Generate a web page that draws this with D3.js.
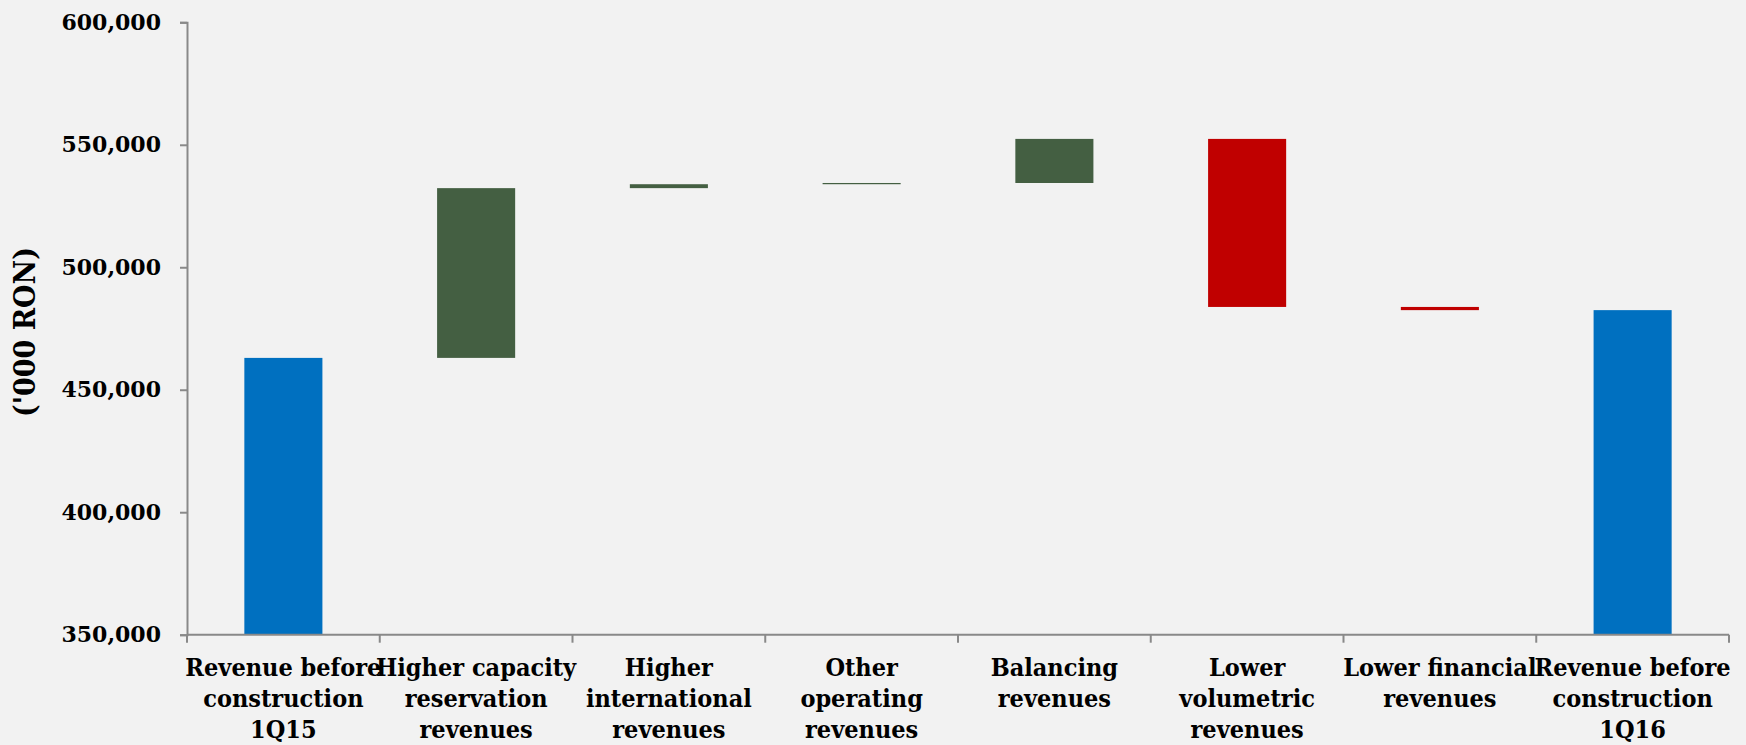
<!DOCTYPE html>
<html>
<head>
<meta charset="utf-8">
<script src="https://cdn.jsdelivr.net/npm/d3@7"></script>
<style>
  html, body { margin: 0; padding: 0; background: #f2f2f2; }
  svg { display: block; }
</style>
</head>
<body>
<div id="chart"></div>
<script>
const categories = [
  'Revenue before construction 1Q15',
  'Higher capacity reservation revenues',
  'Higher international revenues',
  'Other operating revenues',
  'Balancing revenues',
  'Lower volumetric revenues',
  'Lower financial revenues',
  'Revenue before construction 1Q16'
]
const labelLines = [
  ['Revenue before', 'construction', '1Q15'],
  ['Higher capacity', 'reservation', 'revenues'],
  ['Higher', 'international', 'revenues'],
  ['Other', 'operating', 'revenues'],
  ['Balancing', 'revenues'],
  ['Lower', 'volumetric', 'revenues'],
  ['Lower financial', 'revenues'],
  ['Revenue before', 'construction', '1Q16']
]
// 'total' bars start from the axis, the others are changes
const kinds = ['total', 'delta', 'delta', 'delta', 'delta', 'delta', 'delta', 'total']
const values = [463000, 69300, 1600, 500, 18000, -68600, -1300, 482500]
const yTicks = [350000, 400000, 450000, 500000, 550000, 600000]

const width = 1746, height = 745
const mLeft = 187, mRight = 1729, mTop = 22.3, mBottom = 634.7

const svg = d3.select('#chart').append('svg')
    .attr('width', width)
    .attr('height', height)
    .style('background', '#f2f2f2')

const x = d3.scaleBand().domain(categories).range([mLeft, mRight]).padding(0)
const y = d3.scaleLinear().domain([350000, 600000]).range([mBottom, mTop])

// running totals for the waterfall
let run = 0
const bars = categories.map((c, i) => {
  let y0, y1, color
  if (kinds[i] === 'total') {
    y0 = 350000; y1 = values[i]; run = values[i]; color = '#0070c0'
  } else {
    y0 = run; y1 = run + values[i]; run = y1
    color = values[i] >= 0 ? '#445f42' : '#c00000'
  }
  return { c, y0, y1, color }
})

const barW = x.bandwidth() * 0.405
svg.append('g').selectAll('rect')
  .data(bars)
  .join('rect')
    .attr('x', d => x(d.c) + (x.bandwidth() - barW) / 2)
    .attr('width', barW)
    .attr('y', d => y(Math.max(d.y0, d.y1)))
    .attr('height', d => Math.max(1, Math.abs(y(d.y0) - y(d.y1))))
    .attr('fill', d => d.color)

// y axis
const yAxis = svg.append('g')
    .attr('transform', `translate(${mLeft},0)`)
    .call(d3.axisLeft(y).tickValues(yTicks).tickFormat(d3.format(',')).tickSize(7).tickPadding(19))
yAxis.select('.domain').attr('stroke', '#898989').attr('stroke-width', 2)
yAxis.selectAll('.tick line').attr('stroke', '#898989').attr('stroke-width', 2)
yAxis.selectAll('.tick text')
    .attr('fill', '#000')
    .style('font-family', '"DejaVu Serif", serif')
    .style('font-weight', 'bold')
    .style('font-size', '22px')

// x axis: line with ticks at the band edges
const xAxis = svg.append('g').attr('transform', `translate(0,${mBottom})`)
xAxis.append('line')
    .attr('x1', mLeft).attr('x2', mRight)
    .attr('stroke', '#898989').attr('stroke-width', 2)
xAxis.selectAll('line.edge')
  .data(categories.map(c => x(c)).concat([mRight]))
  .join('line')
    .attr('class', 'edge')
    .attr('x1', d => d).attr('x2', d => d)
    .attr('y1', 0).attr('y2', 8)
    .attr('stroke', '#898989').attr('stroke-width', 2)

xAxis.selectAll('text.cat')
  .data(categories)
  .join('text')
    .attr('class', 'cat')
    .attr('text-anchor', 'middle')
    .attr('x', d => x(d) + x.bandwidth() / 2)
    .style('font-family', '"DejaVu Serif", serif')
    .style('font-stretch', 'condensed')
    .style('font-weight', 'bold')
    .style('font-size', '25px')
    .attr('fill', '#000')
  .selectAll('tspan')
  .data((d, i) => labelLines[i])
  .join('tspan')
    .attr('x', function () { return d3.select(this.parentNode).attr('x') })
    .attr('y', (d, j) => 41 + j * 31)
    .text(d => d)

// y title
svg.append('text')
    .attr('transform', `translate(35,332) rotate(-90)`)
    .attr('text-anchor', 'middle')
    .style('font-family', '"DejaVu Serif", serif')
    .style('font-stretch', 'condensed')
    .style('font-weight', 'bold')
    .style('font-size', '30px')
    .text("('000 RON)")
</script>
</body>
</html>
